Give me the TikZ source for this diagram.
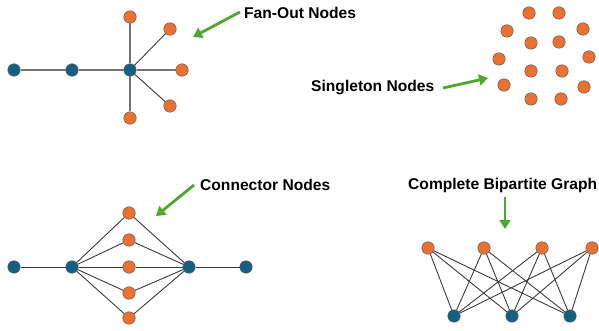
\documentclass[tikz,border=0pt]{standalone}
\usepackage{fontspec}
\setmainfont{Liberation Sans}
\usetikzlibrary{arrows.meta}
\definecolor{vorange}{HTML}{E97132}
\definecolor{vblue}{HTML}{156082}
\definecolor{vgreen}{HTML}{4EA72E}
\definecolor{vedge}{HTML}{3A3A3A}
\tikzset{
  onode/.style={circle, fill=vorange, draw=vedge!80, line width=0.5pt, minimum size=12.5pt, inner sep=0pt},
  bnode/.style={circle, fill=vblue, draw=vedge!80, line width=0.5pt, minimum size=12.5pt, inner sep=0pt},
  edge/.style={draw=vedge, line width=0.9pt},
  gedge/.style={draw=gray!90!black, line width=1.2pt},
  callout/.style={draw=vgreen, line width=2.8pt, -{Triangle[length=9pt,width=11pt]}},
  caption/.style={font=\bfseries\fontsize{15.6}{18}\selectfont, anchor=west, inner sep=0pt, text=black}
}
\begin{document}
\begin{tikzpicture}[x=1pt, y=-1pt]
\useasboundingbox (0,0) rectangle (599,331);

% fan-out
\node[bnode] (f1) at (14,70) {};
\node[bnode] (f2) at (72,70) {};
\node[bnode] (fc) at (130,70) {};
\node[onode] (fa) at (130,17) {};
\node[onode] (fb) at (170,29) {};
\node[onode] (fd) at (182,70) {};
\node[onode] (fe) at (170,106) {};
\node[onode] (ff) at (130,118) {};
\path[gedge] (f1) -- (f2) (f2) -- (fc) (fc) -- (fa) (fc) -- (fd) (fc) -- (ff);
\path[edge] (fc) -- (fb) (fc) -- (fe);
\node[caption] (tfan) at (244,13) {Fan-Out Nodes};
\coordinate (afan) at (240,12);
\coordinate (hfan) at (193,37);
\draw[callout] (afan) -- (hfan);

% singletons
\foreach \p [count=\i] in {(529,13),(559,13),(507,31),(583,29),(531,43),(559,42),(499,59),(589,57),(531,71),(562,71),(504,85),(584,87),(531,99),(561,99)}
  \node[onode] (s\i) at \p {};
\node[caption] (tsing) at (311,88) {Singleton Nodes};
\coordinate (asing) at (443,88);
\coordinate (hsing) at (488,78);
\draw[callout] (asing) -- (hsing);

% connector
\node[bnode] (c1) at (14,267) {};
\node[bnode] (c2) at (72,267) {};
\node[bnode] (c3) at (189,267) {};
\node[bnode] (c4) at (246,267) {};
\foreach \y [count=\i] in {213,240,267,293,318}
  \node[onode] (m\i) at (129,\y) {};
\path[edge] (c1) -- (c2) (c3) -- (c4);
\foreach \i in {1,...,5}
  \path[edge] (c2) -- (m\i) (m\i) -- (c3);
\node[caption] (tcon) at (200,185) {Connector Nodes};
\coordinate (acon) at (194,185);
\coordinate (hcon) at (156,216);
\draw[callout] (acon) -- (hcon);

% bipartite
\node[onode] (u1) at (428,248) {};
\node[onode] (u2) at (484,248) {};
\node[onode] (u3) at (542,248) {};
\node[onode] (u4) at (592,248) {};
\node[bnode] (v1) at (454,316) {};
\node[bnode] (v2) at (512,316) {};
\node[bnode] (v3) at (570,316) {};
\foreach \i in {1,...,4}
  \foreach \j in {1,2,3}
    \path[edge] (u\i) -- (v\j);
\node[caption] (tbip) at (408,185) {Complete Bipartite Graph};
\coordinate (abip) at (505,197);
\coordinate (hbip) at (505,229);
\draw[callout] (abip) -- (hbip);
\end{tikzpicture}
\end{document}
